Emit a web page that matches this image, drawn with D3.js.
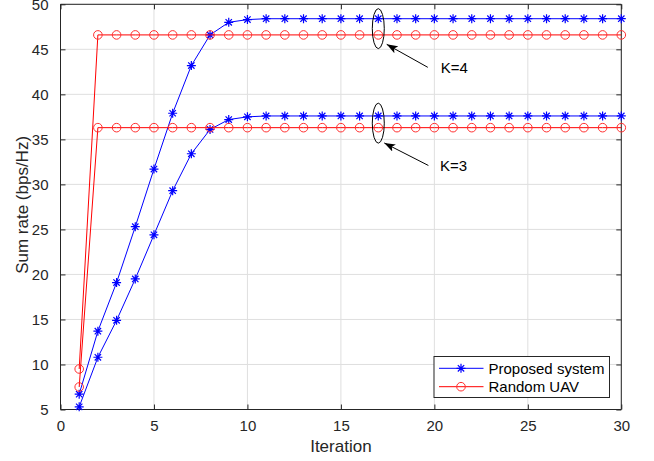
<!DOCTYPE html>
<html><head><meta charset="utf-8">
<script src="https://cdn.jsdelivr.net/npm/d3@7"></script>
<style>body{margin:0;background:#fff}svg{display:block;font-family:"Liberation Sans",Arial,sans-serif}</style>
</head><body><svg id="c" width="654" height="461"></svg>
<script>
const iterations = d3.range(1, 31);
const proposedK4 = [6.7,13.7,19.1,25.3,31.7,37.9,43.2,46.6,48.0,48.3,48.4,48.4,48.4,48.4,48.4,48.4,48.4,48.4,48.4,48.4,48.4,48.4,48.4,48.4,48.4,48.4,48.4,48.4,48.4,48.4];
const proposedK3 = [5.3,10.8,14.9,19.5,24.4,29.3,33.4,36.1,37.2,37.5,37.6,37.6,37.6,37.6,37.6,37.6,37.6,37.6,37.6,37.6,37.6,37.6,37.6,37.6,37.6,37.6,37.6,37.6,37.6,37.6];
const randomK4 = [9.5,46.6,46.6,46.6,46.6,46.6,46.6,46.6,46.6,46.6,46.6,46.6,46.6,46.6,46.6,46.6,46.6,46.6,46.6,46.6,46.6,46.6,46.6,46.6,46.6,46.6,46.6,46.6,46.6,46.6];
const randomK3 = [7.5,36.3,36.3,36.3,36.3,36.3,36.3,36.3,36.3,36.3,36.3,36.3,36.3,36.3,36.3,36.3,36.3,36.3,36.3,36.3,36.3,36.3,36.3,36.3,36.3,36.3,36.3,36.3,36.3,36.3];
const xTicks = [0,5,10,15,20,25,30];
const yTicks = [5,10,15,20,25,30,35,40,45,50];
const legendLabels = ["Proposed system","Random UAV"];
// ellipse centre (ex,ey), arrow tail (ax,ay) -> head (hx,hy), label position (tx,ty) in data units
const annotations = [
  {label:"K=4", ex:17, ey:47.3, ax:19.65, ay:43.0, hx:17.45, hy:45.55, tx:20.34, ty:42.4},
  {label:"K=3", ex:17, ey:36.8, ax:19.68, ay:32.1, hx:17.32, hy:34.6, tx:20.3, ty:31.5}
];

const svg = d3.select("#c");
const L=60.5, R=621.3, T=4.3, B=409.5;
const x = d3.scaleLinear().domain([0,30]).range([L,R]);
const y = d3.scaleLinear().domain([5,50]).range([B,T]);
const txtCol="#262626";
const FF="'Liberation Sans',Arial,sans-serif";

// grid
const g = svg.append("g");
g.selectAll("line.gx").data(xTicks).join("line").attr("x1",d=>x(d)).attr("x2",d=>x(d)).attr("y1",T).attr("y2",B).attr("stroke","#dfdfdf").attr("stroke-width",1);
g.selectAll("line.gy").data(yTicks).join("line").attr("y1",d=>y(d)).attr("y2",d=>y(d)).attr("x1",L).attr("x2",R).attr("stroke","#dfdfdf").attr("stroke-width",1);

// axes
const ax = d3.axisBottom(x).tickValues(xTicks).tickSize(-5).tickPadding(11);
const ay = d3.axisLeft(y).tickValues(yTicks).tickSize(-5).tickPadding(12);
const axT = d3.axisTop(x).tickValues(xTicks).tickSize(-5).tickFormat("");
const ayR = d3.axisRight(y).tickValues(yTicks).tickSize(-5).tickFormat("");
function style(sel){sel.attr("font-size",null).attr("font-family",null);sel.selectAll("path,line").attr("stroke",txtCol);sel.selectAll("text").attr("fill",txtCol).style("font-size","15px").style("font-family",FF);}
svg.append("g").attr("transform",`translate(0,${B})`).call(ax).call(style).select(".domain").attr("d",`M${L},0H${R}`);
svg.append("g").attr("transform",`translate(${L},0)`).call(ay).call(style).select(".domain").attr("d",`M0,${B}V${T}`);
svg.append("g").attr("transform",`translate(0,${T})`).call(axT).call(style).select(".domain").attr("d",`M${L},0H${R}`);
svg.append("g").attr("transform",`translate(${R},0)`).call(ayR).call(style).select(".domain").attr("d",`M0,${B}V${T}`);

// lines
const line = d3.line().x((d,i)=>x(iterations[i])).y(d=>y(d));
const blue="#0000ff", red="#ff0000";
function star(cx,cy,s){const a=s*0.7071;return `M${cx-s},${cy}H${cx+s}M${cx},${cy-s}V${cy+s}M${cx-a},${cy-a}L${cx+a},${cy+a}M${cx-a},${cy+a}L${cx+a},${cy-a}`;}
[[proposedK4,blue,"star"],[proposedK3,blue,"star"],[randomK4,red,"circle"],[randomK3,red,"circle"]].forEach(([arr,col,m])=>{
  svg.append("path").attr("d",line(arr)).attr("fill","none").attr("stroke",col).attr("stroke-width",1);
  if(m==="star"){
    svg.append("g").selectAll("path").data(arr).join("path").attr("d",(d,i)=>star(x(iterations[i]),y(d),4.5)).attr("stroke",col).attr("stroke-width",1.2).attr("fill","none");
  } else {
    svg.append("g").selectAll("circle").data(arr).join("circle").attr("cx",(d,i)=>x(iterations[i])).attr("cy",d=>y(d)).attr("r",4.3).attr("stroke","#ff3030").attr("stroke-width",1).attr("fill","none");
  }
});

// annotations
svg.append("defs").append("marker").attr("id","ah").attr("viewBox","0 0 11 8").attr("refX",11).attr("refY",4).attr("markerWidth",11).attr("markerHeight",8).attr("markerUnits","userSpaceOnUse").attr("orient","auto")
  .append("path").attr("d","M0,0L11,4L0,8L2.5,4Z").attr("fill","#000");
annotations.forEach(a=>{
  svg.append("ellipse").attr("cx",x(a.ex)).attr("cy",y(a.ey)).attr("rx",6).attr("ry",20).attr("fill","none").attr("stroke","#000").attr("stroke-width",1);
  svg.append("line").attr("x1",x(a.ax)).attr("y1",y(a.ay)).attr("x2",x(a.hx)).attr("y2",y(a.hy)).attr("stroke","#000").attr("stroke-width",1).attr("marker-end","url(#ah)");
  svg.append("text").attr("x",x(a.tx)).attr("y",y(a.ty)).text(a.label).attr("fill","#000").style("font-size","15px");
});

// axis labels
svg.append("text").attr("x",(L+R)/2).attr("y",451.5).attr("text-anchor","middle").attr("fill",txtCol).style("font-size","17px").text("Iteration");
svg.append("text").attr("transform",`translate(27.5,${(T+B)/2-2}) rotate(-90)`).attr("text-anchor","middle").attr("fill",txtCol).style("font-size","17px").text("Sum rate (bps/Hz)");

// legend
const lg = svg.append("g");
lg.append("rect").attr("x",434).attr("y",356.5).attr("width",175.5).attr("height",41).attr("fill","#fff").attr("stroke","#262626").attr("stroke-width",1);
legendLabels.forEach((t,i)=>{
  const yy = 368.3 + i*18.4;
  const col = i===0?blue:red;
  lg.append("line").attr("x1",439).attr("x2",483.5).attr("y1",yy).attr("y2",yy).attr("stroke",col);
  if(i===0) lg.append("path").attr("d",star(461,yy,4.5)).attr("stroke",col).attr("stroke-width",1.2);
  else lg.append("circle").attr("cx",461).attr("cy",yy).attr("r",4.3).attr("fill","none").attr("stroke","#ff3030");
  lg.append("text").attr("x",488.5).attr("y",yy+5.3).attr("fill","#000").style("font-size","15px").text(t);
});
</script></body></html>
